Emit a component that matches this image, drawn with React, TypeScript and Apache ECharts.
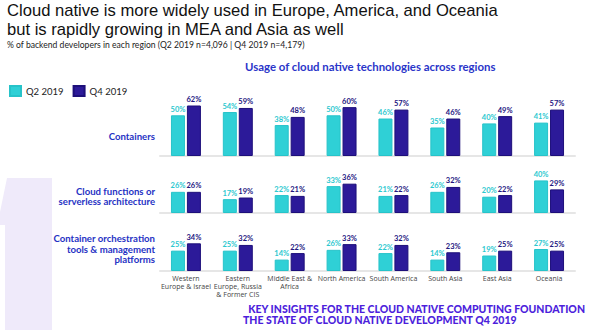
import React, { useEffect, useRef } from "react";
import * as echarts from "echarts";

const regions = [
  "Western\nEurope & Israel",
  "Eastern\nEurope, Russia\n& Former CIS",
  "Middle East &\nAfrica",
  "North America",
  "South America",
  "South Asia",
  "East Asia",
  "Oceania",
];
const rowNames = [
  "Containers",
  "Cloud functions or\nserverless architecture",
  "Container orchestration\ntools & management\nplatforms",
];
const containersQ2 = [50, 54, 38, 50, 46, 35, 40, 41];
const containersQ4 = [62, 59, 48, 60, 57, 46, 49, 57];
const cloudFnQ2 = [26, 17, 22, 33, 21, 26, 20, 40];
const cloudFnQ4 = [26, 19, 21, 36, 22, 32, 22, 29];
const orchestrationQ2 = [25, 25, 14, 26, 22, 14, 19, 27];
const orchestrationQ4 = [34, 32, 22, 33, 32, 23, 25, 25];

const Q2 = "#2fd0d6";
const Q4 = "#2c1a99";
const FONT = "Lato, 'Noto Sans', sans-serif";
const WIDE = "'Open Sans', 'Noto Sans', sans-serif";
const TITLE = "'Liberation Sans', Arial, sans-serif";

export default function App() {
  const ref = useRef<HTMLDivElement>(null);
  useEffect(() => {
    if (!ref.current) return;
    const chart = echarts.init(ref.current, null, { renderer: "svg" });
    const bottoms = [156, 213, 271];
    const H = 57;
    const rows = [
      [containersQ2, containersQ4],
      [cloudFnQ2, cloudFnQ4],
      [orchestrationQ2, orchestrationQ4],
    ];
    const grids = bottoms.map((b) => ({ left: 160, width: 415, top: b - H, height: H }));
    const xAxes = bottoms.map((_, i) => ({
      type: "category",
      gridIndex: i,
      data: regions,
      axisLine: { show: true, lineStyle: { color: "#e6e6e6", width: 2 } },
      axisTick: { show: false },
      axisLabel: {
        show: i === 2,
        interval: 0,
        fontSize: 7,
        lineHeight: 8.2,
        color: "#444",
        margin: 3,
        fontFamily: WIDE,
      },
    }));
    const yAxes = bottoms.map((_, i) => ({
      type: "value",
      gridIndex: i,
      min: 0,
      max: 70,
      show: false,
      splitLine: { show: false },
    }));
    const series: any[] = [];
    rows.forEach((r, i) => {
      [0, 1].forEach((k) => {
        series.push({
          type: "bar",
          name: k === 0 ? "Q2 2019" : "Q4 2019",
          xAxisIndex: i,
          yAxisIndex: i,
          data: r[k],
          barWidth: 14,
          barGap: "14%",
          itemStyle: {
            color: k === 0 ? Q2 : Q4,
            borderColor: k === 0 ? "#27c3c9" : "#1d0f7a",
            borderWidth: 1,
          },
          label: {
            show: true,
            position: "top",
            distance: 2,
            formatter: "{c}%",
            fontSize: 7.5,
            fontWeight: "bold",
            fontFamily: FONT,
            color: k === 0 ? "#2cc8cf" : "#24167f",
          },
        });
      });
    });
    const rowLabelY = [136, 196.5, 249];
    const graphic: any[] = [
      {
        type: "polygon",
        z: -10,
        shape: {
          points: [
            [7, 178],
            [52, 178],
            [52, 330],
            [5, 330],
            [5, 225],
            [0, 225],
            [0, 212],
          ],
        },
        style: { fill: "#efeafa" },
      },
      {
        type: "text",
        x: 7,
        y: 10,
        style: {
          text: "Cloud native is more widely used in Europe, America, and Oceania",
          font: `16.6px ${TITLE}`,
          fill: "#111",
          verticalAlign: "middle",
        },
      },
      {
        type: "text",
        x: 7,
        y: 29.5,
        style: {
          text: "but is rapidly growing in MEA and Asia as well",
          font: `16.6px ${TITLE}`,
          fill: "#111",
          verticalAlign: "middle",
        },
      },
      {
        type: "text",
        x: 7,
        y: 45.3,
        style: {
          text: "% of backend developers in each region (Q2 2019 n=4,096 | Q4 2019 n=4,179)",
          font: `8.6px ${FONT}`,
          fill: "#222",
          verticalAlign: "middle",
        },
      },
      {
        type: "text",
        x: 245,
        y: 66,
        style: {
          text: "Usage of cloud native technologies across regions",
          font: `bold 11.4px ${FONT}`,
          fill: "#2a35c9",
          verticalAlign: "middle",
        },
      },
      {
        type: "text",
        x: 585,
        y: 309,
        style: {
          text: "KEY INSIGHTS FOR THE CLOUD NATIVE COMPUTING FOUNDATION",
          font: `900 10.5px ${FONT}`,
          fill: "#4d1fdc",
          align: "right",
          verticalAlign: "middle",
        },
      },
      {
        type: "text",
        x: 243,
        y: 320,
        style: {
          text: "THE STATE OF CLOUD NATIVE DEVELOPMENT Q4 2019",
          font: `900 10.5px ${FONT}`,
          fill: "#4d1fdc",
          align: "left",
          verticalAlign: "middle",
        },
      },
      ...rowNames.map((t, i) => ({
        type: "text",
        x: 155,
        y: rowLabelY[i],
        style: {
          text: t,
          font: `bold 9.6px ${FONT}`,
          lineHeight: 10.7,
          fill: "#1f32c4",
          align: "right",
          verticalAlign: "middle",
        },
      })),
    ];
    chart.setOption({
      animation: false,
      backgroundColor: "#fff",
      legend: {
        left: 9,
        top: 85,
        padding: 0,
        itemWidth: 11,
        itemHeight: 10,
        itemGap: 9,
        icon: "rect",
        data: ["Q2 2019", "Q4 2019"],
        textStyle: { fontSize: 9.5, color: "#222", fontFamily: FONT },
      },
      grid: grids,
      xAxis: xAxes,
      yAxis: yAxes,
      series,
      graphic,
    });
    return () => chart.dispose();
  }, []);
  return (
    <div
      ref={ref}
      style={{ position: "absolute", left: 0, top: 0, width: 600, height: 330 }}
    />
  );
}
